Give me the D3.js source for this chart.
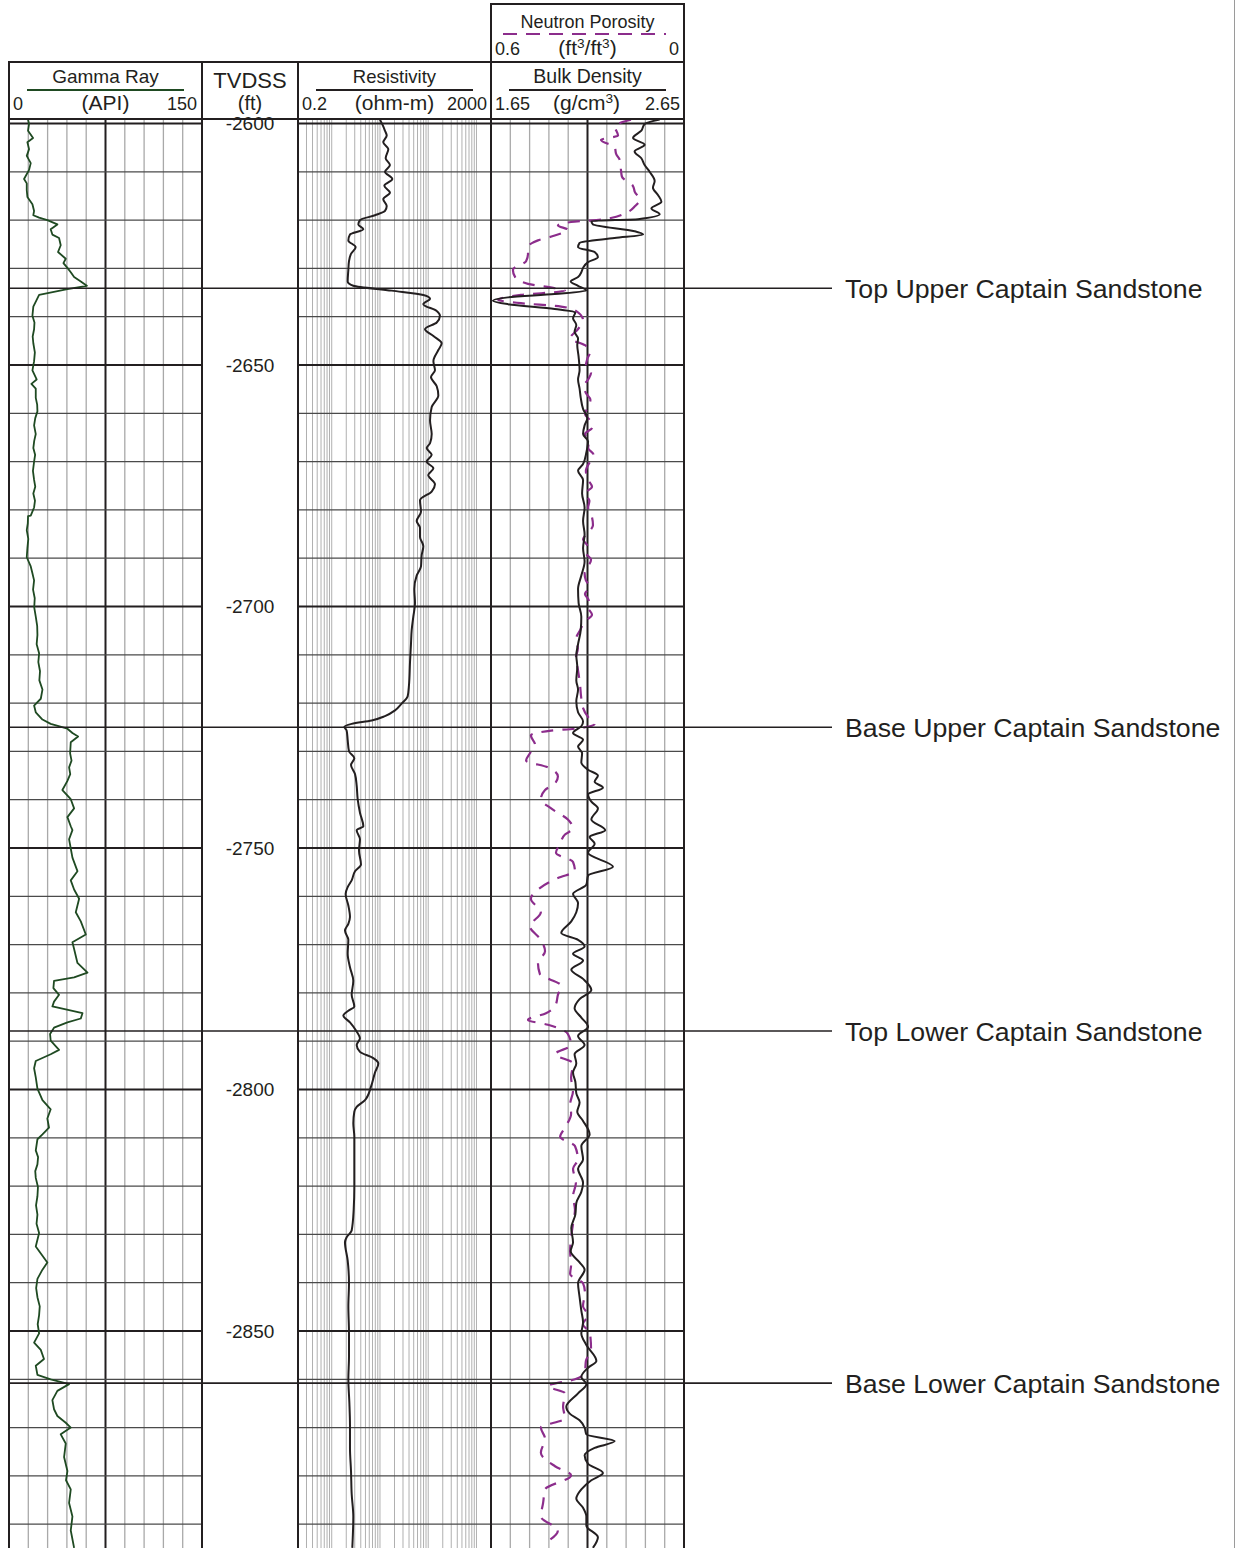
<!DOCTYPE html>
<meta charset="utf-8" />
<script src="https://d3js.org/d3.v7.min.js"></script>

<body style="margin:0;background:#fff">
<svg id="chart" width="1236" height="1548" style="display:block"></svg>

<script>
/* DATA (depth ft below SS, value) ------------------------------------------ */
const depthTicks=[2600,2650,2700,2750,2800,2850];
const topNames=["Top Upper Captain Sandstone","Base Upper Captain Sandstone",
                "Top Lower Captain Sandstone","Base Lower Captain Sandstone"];
const topDepths=[2634.1,2725.0,2787.9,2860.8];

const gammaRay=[[2599.2,14.8],[2600.1,15.6],[2601.5,14.8],[2603.0,18.7],[2603.9,14.3],[2605.3,15.6],[2606.7,13.8],[2608.2,16.9],[2609.6,15.6],[2611.5,11.7],[2612.4,13.8],[2613.8,13.8],[2615.2,14.3],[2616.7,18.2],[2618.1,19.5],[2619.0,18.9],[2619.5,23.4],[2620.0,29.8],[2620.9,37.6],[2621.9,32.4],[2623.0,33.7],[2623.7,38.9],[2625.2,40.2],[2626.6,38.1],[2628.0,44.1],[2628.9,42.3],[2629.9,45.4],[2630.8,48.0],[2631.8,50.6],[2632.7,55.8],[2633.6,60.5],[2634.3,45.4],[2635.5,23.4],[2636.5,21.5],[2637.9,18.9],[2639.8,18.2],[2641.2,19.8],[2642.6,19.5],[2644.1,18.4],[2645.5,18.9],[2647.4,20.1],[2649.2,19.5],[2651.1,18.2],[2653.0,21.5],[2653.9,17.4],[2654.9,20.8],[2656.8,20.8],[2658.2,21.9],[2659.6,22.1],[2661.0,20.4],[2662.5,19.5],[2664.3,20.8],[2665.7,19.6],[2667.2,18.9],[2668.6,20.3],[2670.0,19.5],[2671.9,18.6],[2673.8,19.5],[2675.2,20.4],[2676.6,18.9],[2678.1,20.2],[2679.5,19.5],[2681.2,16.9],[2681.3,14.8],[2682.8,14.6],[2684.2,13.8],[2686.0,15.0],[2687.9,14.3],[2689.8,13.8],[2691.7,16.9],[2693.1,18.2],[2694.6,19.5],[2696.5,18.7],[2698.3,20.0],[2700.2,19.6],[2702.1,20.8],[2704.0,21.9],[2705.9,22.1],[2707.8,21.5],[2709.7,23.4],[2711.5,22.8],[2713.4,24.1],[2715.3,23.6],[2717.2,26.0],[2719.1,24.7],[2720.5,19.5],[2721.9,20.8],[2723.4,26.0],[2724.3,32.4],[2725.3,45.4],[2726.2,49.3],[2726.9,53.7],[2728.1,48.0],[2730.4,47.5],[2731.9,48.6],[2733.3,46.7],[2734.7,47.6],[2736.1,45.4],[2738.0,41.5],[2739.9,48.0],[2741.8,50.6],[2743.6,45.4],[2745.5,48.0],[2746.3,49.3],[2748.2,46.7],[2750.1,48.0],[2752.0,49.3],[2754.8,53.2],[2756.7,48.0],[2758.6,50.6],[2760.5,54.5],[2763.3,51.9],[2765.2,55.8],[2767.9,59.7],[2769.5,49.3],[2770.9,50.6],[2773.8,53.2],[2775.8,61.0],[2776.8,50.6],[2777.5,35.0],[2779.0,34.5],[2780.4,38.9],[2781.8,35.0],[2782.8,33.7],[2784.2,57.1],[2785.3,55.8],[2786.1,45.4],[2787.2,35.0],[2788.5,31.9],[2789.9,32.4],[2791.8,38.9],[2792.7,32.4],[2794.1,20.8],[2795.6,19.5],[2797.5,20.8],[2799.8,22.1],[2802.2,26.0],[2804.1,32.4],[2806.0,29.8],[2807.9,31.1],[2809.3,26.0],[2810.3,22.1],[2812.6,20.8],[2814.0,22.6],[2815.5,22.1],[2816.9,20.4],[2818.3,20.8],[2820.2,22.5],[2822.1,22.1],[2824.0,21.0],[2825.9,22.1],[2827.8,21.4],[2829.7,23.4],[2832.5,20.8],[2835.8,29.8],[2837.3,26.0],[2839.2,22.1],[2841.1,21.1],[2843.0,22.1],[2844.9,23.9],[2846.7,23.4],[2848.6,22.3],[2850.5,23.4],[2852.4,19.5],[2853.9,24.7],[2855.8,27.2],[2857.2,20.8],[2859.1,22.1],[2860.0,32.4],[2861.0,46.7],[2862.4,37.6],[2864.3,33.7],[2866.2,35.0],[2867.6,37.6],[2869.0,44.1],[2870.0,48.0],[2871.4,40.2],[2873.3,44.1],[2876.1,42.8],[2879.0,45.4],[2880.9,44.3],[2882.8,48.0],[2885.6,46.7],[2888.4,49.3],[2891.3,48.0],[2894.9,50.6]];

const resistivity=[[2599.2,10.0],[2600.6,11.7],[2601.5,12.7],[2602.5,13.8],[2603.9,11.7],[2605.3,14.9],[2607.2,13.1],[2608.6,16.1],[2610.0,12.7],[2611.5,18.0],[2612.9,12.3],[2614.3,16.1],[2615.7,11.7],[2617.1,13.8],[2618.1,12.7],[2619.0,7.88],[2620.0,3.85],[2620.9,3.56],[2621.9,4.52],[2623.0,2.39],[2624.2,2.21],[2625.6,3.13],[2627.0,2.51],[2628.5,2.28],[2630.3,2.21],[2632.7,2.14],[2633.6,2.80],[2634.6,17.5],[2635.5,79.2],[2636.3,109],[2637.4,79.2],[2638.8,150],[2639.8,175],[2641.2,150],[2642.6,85.7],[2644.0,128],[2645.5,190],[2646.9,162],[2649.2,128],[2651.1,138],[2652.5,114],[2654.4,150],[2656.3,162],[2658.7,118],[2661.5,109],[2664.3,118],[2666.2,109],[2667.2,92.8],[2668.6,118],[2670.0,92.8],[2671.4,128],[2672.8,100],[2674.7,138],[2676.2,118],[2678.0,67.5],[2680.4,70.8],[2682.3,57.6],[2683.7,67.5],[2685.6,67.5],[2687.5,79.2],[2689.4,73.1],[2691.7,70.8],[2693.6,57.6],[2696.4,51.5],[2699.3,53.2],[2702.1,49.1],[2704.9,45.4],[2707.8,43.9],[2711.6,41.9],[2716.3,39.9],[2718.6,37.5],[2720.1,28.1],[2721.5,20.5],[2722.7,12.7],[2723.6,6.73],[2724.3,2.59],[2724.9,1.83],[2725.7,2.04],[2727.6,2.14],[2730.0,2.28],[2731.4,2.94],[2732.8,2.51],[2734.7,3.04],[2737.1,3.29],[2739.9,3.45],[2742.7,3.85],[2745.5,4.52],[2746.3,3.29],[2748.2,3.85],[2750.5,3.67],[2753.4,4.04],[2754.8,3.04],[2756.7,2.59],[2758.1,2.14],[2759.5,1.94],[2761.9,2.21],[2764.3,2.39],[2765.7,2.21],[2767.1,1.88],[2769.0,2.21],[2771.9,2.14],[2774.7,2.39],[2777.5,2.80],[2780.4,2.59],[2782.8,2.94],[2783.7,2.21],[2784.7,1.74],[2786.1,2.39],[2788.0,3.29],[2789.4,3.85],[2790.8,3.29],[2792.2,3.85],[2793.5,7.28],[2794.6,9.24],[2796.5,7.88],[2799.4,6.52],[2802.2,4.89],[2803.6,3.29],[2804.6,2.94],[2807.0,2.80],[2809.8,2.94],[2814.5,2.94],[2820.2,2.94],[2824.9,2.85],[2829.2,2.59],[2830.6,2.04],[2831.6,1.88],[2835.4,2.14],[2840.1,2.28],[2844.9,2.21],[2850.5,2.28],[2855.3,2.28],[2860.0,2.21],[2864.8,2.32],[2869.5,2.39],[2874.2,2.39],[2879.0,2.51],[2883.7,2.59],[2888.4,2.80],[2894.9,2.67]];

const bulkDensity=[[2599.2,2.524],[2600.1,2.446],[2601.5,2.429],[2603.0,2.386],[2604.4,2.446],[2605.8,2.394],[2607.2,2.429],[2608.6,2.446],[2610.0,2.472],[2611.9,2.498],[2613.3,2.489],[2614.8,2.515],[2616.2,2.533],[2617.6,2.481],[2618.8,2.524],[2619.8,2.412],[2620.2,2.17],[2620.9,2.178],[2622.3,2.394],[2623.0,2.438],[2623.7,2.29],[2624.7,2.109],[2625.6,2.101],[2626.6,2.187],[2627.7,2.204],[2628.7,2.153],[2629.9,2.127],[2630.8,2.118],[2631.8,2.101],[2632.7,2.063],[2633.6,2.101],[2634.6,2.144],[2635.3,1.98],[2636.0,1.738],[2636.7,1.66],[2637.4,1.738],[2638.4,1.98],[2639.1,2.087],[2640.3,2.075],[2641.7,2.092],[2643.1,2.083],[2644.5,2.101],[2645.9,2.097],[2648.3,2.104],[2651.1,2.109],[2653.0,2.101],[2654.9,2.109],[2656.8,2.115],[2659.1,2.127],[2661.0,2.149],[2662.5,2.135],[2664.3,2.127],[2665.8,2.153],[2668.1,2.144],[2670.5,2.127],[2671.9,2.101],[2673.8,2.127],[2676.6,2.122],[2679.5,2.135],[2682.3,2.127],[2685.1,2.135],[2687.9,2.127],[2690.7,2.135],[2693.6,2.118],[2696.4,2.101],[2699.3,2.104],[2702.1,2.118],[2704.9,2.115],[2707.8,2.101],[2710.1,2.092],[2712.5,2.097],[2715.3,2.092],[2717.2,2.101],[2719.6,2.092],[2721.9,2.101],[2723.8,2.127],[2724.8,2.118],[2726.2,2.075],[2727.6,2.127],[2729.0,2.101],[2730.4,2.122],[2732.3,2.118],[2733.8,2.153],[2735.0,2.204],[2736.3,2.187],[2737.5,2.23],[2738.9,2.153],[2740.4,2.17],[2741.8,2.204],[2744.1,2.17],[2746.3,2.242],[2747.7,2.161],[2749.1,2.187],[2751.0,2.153],[2753.9,2.282],[2755.7,2.153],[2757.6,2.144],[2759.5,2.075],[2761.4,2.101],[2763.3,2.092],[2765.2,2.066],[2767.6,2.014],[2769.0,2.101],[2770.4,2.135],[2771.9,2.075],[2773.3,2.127],[2775.2,2.066],[2777.1,2.127],[2779.4,2.17],[2781.3,2.109],[2783.2,2.083],[2785.1,2.118],[2787.0,2.153],[2788.9,2.101],[2790.8,2.135],[2792.7,2.083],[2794.6,2.092],[2796.5,2.075],[2798.4,2.087],[2800.8,2.092],[2802.7,2.109],[2804.6,2.097],[2806.5,2.127],[2809.3,2.161],[2811.7,2.118],[2814.5,2.127],[2816.4,2.101],[2819.3,2.127],[2821.2,2.118],[2823.5,2.092],[2825.9,2.087],[2828.7,2.066],[2831.6,2.075],[2833.5,2.063],[2835.8,2.109],[2837.3,2.135],[2840.1,2.101],[2843.0,2.109],[2845.8,2.118],[2848.2,2.127],[2850.5,2.118],[2852.9,2.144],[2856.2,2.196],[2857.6,2.153],[2859.5,2.118],[2861.0,2.144],[2862.9,2.101],[2865.7,2.04],[2867.1,2.058],[2868.5,2.109],[2870.0,2.135],[2871.4,2.144],[2872.8,2.291],[2874.2,2.187],[2875.7,2.135],[2877.5,2.153],[2879.4,2.23],[2880.9,2.17],[2882.8,2.118],[2884.7,2.092],[2886.6,2.127],[2888.4,2.144],[2890.3,2.144],[2892.7,2.204],[2894.9,2.178]];

const neutronPorosity=[[2599.2,0.165],[2600.6,0.215],[2602.5,0.205],[2603.4,0.258],[2604.9,0.215],[2606.3,0.211],[2607.7,0.199],[2609.6,0.196],[2611.0,0.193],[2612.9,0.159],[2614.3,0.152],[2615.7,0.137],[2617.1,0.152],[2618.3,0.174],[2619.8,0.246],[2620.4,0.351],[2621.1,0.392],[2622.0,0.361],[2623.3,0.407],[2624.2,0.454],[2625.6,0.485],[2627.0,0.485],[2628.5,0.491],[2630.3,0.532],[2631.8,0.525],[2633.2,0.485],[2634.1,0.401],[2634.6,0.370],[2635.5,0.507],[2636.5,0.578],[2637.2,0.507],[2637.9,0.382],[2638.8,0.336],[2640.7,0.314],[2642.6,0.330],[2644.5,0.354],[2645.9,0.308],[2647.3,0.292],[2648.8,0.301],[2650.2,0.305],[2651.6,0.289],[2653.0,0.298],[2654.4,0.312],[2655.8,0.305],[2657.2,0.291],[2658.7,0.298],[2660.1,0.308],[2661.5,0.292],[2662.9,0.285],[2664.3,0.308],[2665.7,0.296],[2667.2,0.298],[2668.6,0.281],[2670.0,0.292],[2671.9,0.305],[2673.8,0.298],[2675.2,0.286],[2676.6,0.308],[2678.1,0.294],[2679.5,0.298],[2681.3,0.287],[2683.2,0.283],[2684.6,0.296],[2686.1,0.314],[2687.5,0.300],[2688.9,0.305],[2690.3,0.289],[2691.7,0.298],[2693.1,0.309],[2694.6,0.305],[2696.0,0.293],[2697.4,0.308],[2698.8,0.296],[2700.2,0.298],[2701.7,0.286],[2703.1,0.308],[2704.9,0.323],[2706.8,0.336],[2708.7,0.330],[2710.6,0.336],[2713.0,0.330],[2716.3,0.323],[2718.6,0.320],[2721.0,0.314],[2722.9,0.298],[2724.3,0.277],[2725.3,0.339],[2725.7,0.413],[2726.7,0.476],[2728.6,0.463],[2730.4,0.479],[2731.9,0.491],[2733.3,0.423],[2735.2,0.392],[2736.6,0.401],[2738.0,0.432],[2739.9,0.445],[2741.8,0.413],[2744.1,0.361],[2746.0,0.345],[2747.2,0.370],[2749.1,0.385],[2751.0,0.398],[2752.9,0.345],[2754.8,0.339],[2756.2,0.392],[2758.6,0.454],[2760.5,0.476],[2763.3,0.445],[2766.2,0.479],[2769.0,0.445],[2771.4,0.432],[2773.8,0.454],[2776.1,0.448],[2778.5,0.382],[2780.4,0.392],[2782.3,0.398],[2784.2,0.429],[2785.6,0.485],[2786.6,0.423],[2788.5,0.361],[2790.8,0.351],[2792.7,0.401],[2794.6,0.345],[2797.5,0.351],[2800.3,0.345],[2803.1,0.354],[2805.0,0.351],[2807.9,0.370],[2809.8,0.385],[2811.7,0.339],[2814.5,0.330],[2816.4,0.345],[2819.3,0.336],[2822.1,0.345],[2824.9,0.339],[2827.8,0.345],[2830.6,0.351],[2833.5,0.354],[2836.3,0.351],[2838.2,0.354],[2840.1,0.314],[2842.0,0.308],[2844.9,0.314],[2846.7,0.298],[2848.6,0.314],[2850.5,0.292],[2853.9,0.289],[2856.2,0.305],[2858.6,0.308],[2860.0,0.339],[2861.4,0.423],[2862.9,0.370],[2865.7,0.376],[2868.1,0.370],[2870.0,0.445],[2872.3,0.432],[2875.2,0.445],[2878.0,0.401],[2879.9,0.351],[2882.8,0.432],[2885.6,0.438],[2888.4,0.445],[2891.3,0.392],[2894.1,0.438]];

/* LAYOUT ------------------------------------------------------------------ */
const W=1236,H=1548,bodyTop=119,hdrTop=62,nHdrTop=4;
const tr={gr:[9,202],tv:[202,298],res:[298,491],den:[491,684]};
const ink="#231f20",green="#1f4a22",purple="#8c2d8c",grid="#a9a9a9";
const font="'Liberation Sans',Arial,Helvetica,sans-serif";

const y   =d3.scaleLinear().domain([2600,2850]).range([123.5,1331]);
const xGR =d3.scaleLinear().domain([0,150]).range(tr.gr);
const xRes=d3.scaleLog().domain([0.2,2000]).range(tr.res);
const xDen=d3.scaleLinear().domain([1.65,2.65]).range(tr.den);
const xNeu=d3.scaleLinear().domain([0.6,0]).range(tr.den);

const svg=d3.select("#chart").style("font-family",font);
svg.append("rect").attr("width",W).attr("height",H).attr("fill","#fff");

const defs=svg.append("defs");
[["gr",tr.gr],["res",tr.res],["den",tr.den]].forEach(([k,r])=>{
  defs.append("clipPath").attr("id","clip-"+k).append("rect")
    .attr("x",r[0]).attr("y",bodyTop).attr("width",r[1]-r[0]).attr("height",H-bodyTop);
});

/* grid ---------------------------------------------------------------------- */
const g=svg.append("g");
function vline(x,col,w){
  g.append("line").attr("x1",x).attr("x2",x).attr("y1",bodyTop).attr("y2",H)
   .attr("stroke",col).attr("stroke-width",w);
}
d3.range(15,150,15).forEach(v=>vline(xGR(v),v===75?ink:grid,v===75?2:1.3));
d3.range(1,10).map(i=>+(1.65+i*0.1).toFixed(2))
  .forEach((v,i)=>vline(xDen(v),i===4?ink:grid,i===4?2:1.3));
const resLines=[];
[0.1,1,10,100,1000].forEach(dec=>d3.range(1,10).forEach(n=>{
  const v=+(n*dec).toPrecision(3); if(v>0.2&&v<2000) resLines.push(v);
}));
resLines.forEach(v=>vline(xRes(v),"#b0b0b0",1));

const hDepths=d3.range(2600,2900,10);
[tr.gr,tr.res,tr.den].forEach(r=>{
  hDepths.forEach(d=>{
    g.append("line").attr("x1",r[0]).attr("x2",r[1]).attr("y1",y(d)).attr("y2",y(d))
     .attr("stroke",d%50===0?ink:"#4a4a4a").attr("stroke-width",d%50===0?2:1.3);
  });
});

/* curves ------------------------------------------------------------------- */
function curve(data,xs,clip,col,w,curveType,dash){
  const line=d3.line().x(d=>xs(d[1])).y(d=>y(d[0])).curve(curveType);
  const p=svg.append("path").datum(data).attr("d",line)
    .attr("clip-path",`url(#clip-${clip})`)
    .attr("fill","none").attr("stroke",col).attr("stroke-width",w)
    .attr("stroke-linejoin","round");
  if(dash) p.attr("stroke-dasharray",dash);
}
curve(gammaRay,xGR,"gr",green,1.8,d3.curveLinear);
curve(resistivity,xRes,"res",ink,2,d3.curveMonotoneY);
curve(neutronPorosity,xNeu,"den",purple,2.2,d3.curveMonotoneY,"12,9");
curve(bulkDensity,xDen,"den",ink,2,d3.curveMonotoneY);

/* formation tops ------------------------------------------------------------ */
topDepths.forEach((d,i)=>{
  svg.append("line").attr("x1",tr.gr[0]).attr("x2",832).attr("y1",y(d)).attr("y2",y(d))
    .attr("stroke",ink).attr("stroke-width",1.6);
  svg.append("text").attr("x",845).attr("y",y(d)).attr("dy","0.36em")
    .attr("font-size",26.7).attr("fill",ink).text(topNames[i]);
});

/* depth labels -------------------------------------------------------------- */
depthTicks.forEach(d=>{
  svg.append("text").attr("x",(tr.tv[0]+tr.tv[1])/2).attr("y",y(d)).attr("dy","0.36em")
    .attr("text-anchor","middle").attr("font-size",19).attr("fill",ink).text("-"+d);
});

/* track borders + header boxes --------------------------------------------- */
const b=svg.append("g").attr("stroke",ink).attr("stroke-width",2).attr("fill","none");
[tr.gr[0],tr.tv[0],tr.res[0],tr.den[0],tr.den[1]].forEach(x=>
  b.append("line").attr("x1",x).attr("x2",x).attr("y1",hdrTop).attr("y2",H));
b.append("line").attr("x1",tr.gr[0]-1).attr("x2",tr.den[1]+1).attr("y1",hdrTop).attr("y2",hdrTop);
b.append("line").attr("x1",tr.gr[0]-1).attr("x2",tr.den[1]+1).attr("y1",bodyTop).attr("y2",bodyTop);
b.append("rect").attr("x",tr.den[0]).attr("y",nHdrTop).attr("width",tr.den[1]-tr.den[0]).attr("height",hdrTop-nHdrTop);
svg.append("line").attr("x1",1234.5).attr("x2",1234.5).attr("y1",0).attr("y2",H)
  .attr("stroke","#9a9a9a").attr("stroke-width",1);

/* header text ---------------------------------------------------------------- */
function txt(x,yy,s,size,anchor){
  return svg.append("text").attr("x",x).attr("y",yy).attr("font-size",size)
    .attr("text-anchor",anchor||"middle").attr("fill",ink).text(s);
}
function unitSup(x,yy,parts,size){   // parts: [text, sup, text, sup, text]
  const t=svg.append("text").attr("x",x).attr("y",yy).attr("font-size",size)
    .attr("text-anchor","middle").attr("fill",ink);
  parts.forEach((p,i)=>{
    if(i%2) t.append("tspan").attr("dy",-7).attr("font-size",size*0.65).text(p);
    else    t.append("tspan").attr("dy",i?7:0).text(p);
  });
}
function titleLine(r,yy,col,dash){
  const l=svg.append("line").attr("x1",r[0]+18).attr("x2",r[1]-18).attr("y1",yy).attr("y2",yy)
    .attr("stroke",col).attr("stroke-width",2);
  if(dash) l.attr("stroke-dasharray",dash);
}
const mid=r=>(r[0]+r[1])/2;

// neutron box
txt(mid(tr.den),28,"Neutron Porosity",18);
svg.append("line").attr("x1",tr.den[0]+12).attr("x2",tr.den[1]-18).attr("y1",34).attr("y2",34)
  .attr("stroke",purple).attr("stroke-width",2).attr("stroke-dasharray","14,9");
txt(tr.den[0]+4,55,"0.6",18,"start");
unitSup(mid(tr.den),55,["(ft","3","/ft","3",")"],21);
txt(tr.den[1]-5,55,"0",18,"end");

// gamma ray
txt(mid(tr.gr),83,"Gamma Ray",19);
titleLine(tr.gr,90,green);
txt(tr.gr[0]+4,110,"0",18,"start");
txt(mid(tr.gr),110,"(API)",21);
txt(tr.gr[1]-5,110,"150",18,"end");

// tvdss
txt(mid(tr.tv),88,"TVDSS",22);
txt(mid(tr.tv),110,"(ft)",20);

// resistivity
txt(mid(tr.res),83,"Resistivity",18.5);
titleLine(tr.res,90,ink);
txt(tr.res[0]+4,110,"0.2",18,"start");
txt(mid(tr.res),110,"(ohm-m)",21);
txt(tr.res[1]-4,110,"2000",18,"end");

// bulk density
txt(mid(tr.den),83,"Bulk Density",19.5);
titleLine(tr.den,90,ink);
txt(tr.den[0]+4,110,"1.65",18,"start");
unitSup(mid(tr.den)-1,110,["(g/cm","3",")"],21);
txt(tr.den[1]-4,110,"2.65",18,"end");
</script>
</body>
